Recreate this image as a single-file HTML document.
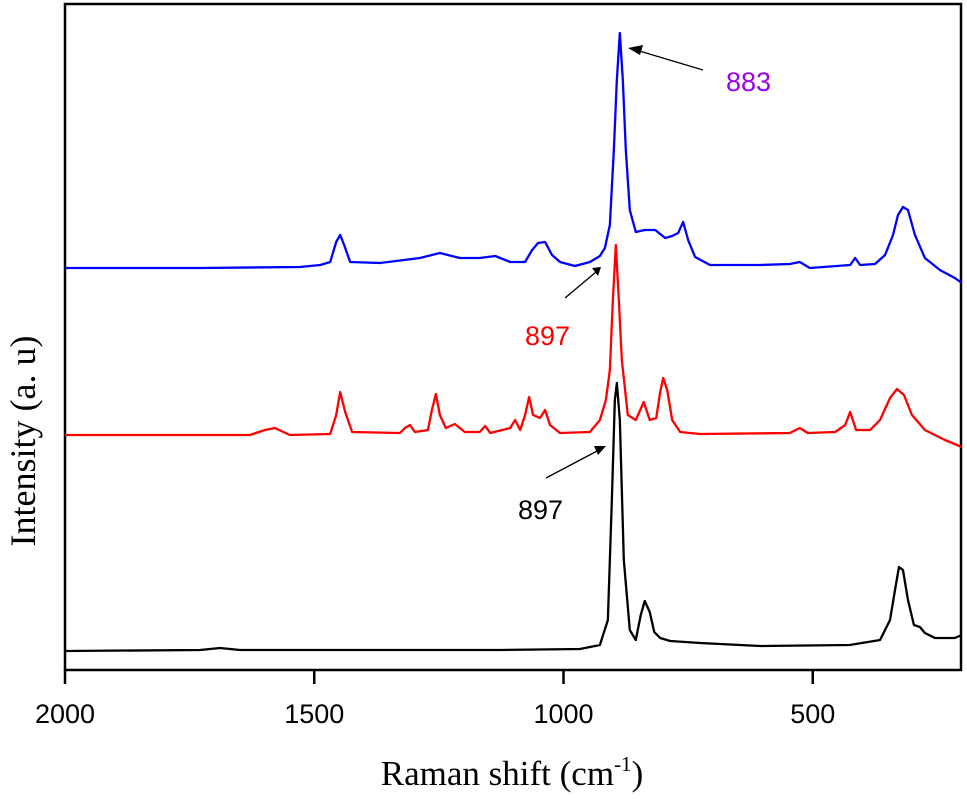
<!DOCTYPE html>
<html><head><meta charset="utf-8"><style>
body{margin:0;background:#fff;}
svg{display:block;}
</style></head><body>
<svg id="chart" width="967" height="799" viewBox="0 0 967 799" xmlns="http://www.w3.org/2000/svg">
<rect x="65" y="4" width="896" height="666" fill="none" stroke="#000" stroke-width="2.5"/>
<g id="xticks"></g>
<g id="series"></g>
<text transform="translate(35,441) rotate(-90)" text-anchor="middle" font-family="Liberation Serif, serif" font-size="36">Intensity (a. u)</text>
<text x="512" y="785" text-anchor="middle" font-family="Liberation Serif, serif" font-size="35">Raman shift (cm<tspan dy="-14" font-size="21">-1</tspan><tspan dy="14">)</tspan></text>
<g>
<line x1="703" y1="70" x2="636" y2="50" stroke="#000" stroke-width="1.3"/>
<polygon points="628,48 643,45 640,55" fill="#000"/>
<text x="726" y="91" font-family="Liberation Sans, sans-serif" font-size="27" fill="#9a00f0">883</text>
</g>
<g>
<line x1="565" y1="298" x2="596" y2="272" stroke="#000" stroke-width="1.3"/>
<polygon points="601,267 592,268 598,276" fill="#000"/>
<text x="525" y="345" font-family="Liberation Sans, sans-serif" font-size="27" fill="#f00">897</text>
</g>
<g>
<line x1="546" y1="478" x2="599" y2="450" stroke="#000" stroke-width="1.3"/>
<polygon points="606,446 594,446 598,455" fill="#000"/>
<text x="518" y="519" font-family="Liberation Sans, sans-serif" font-size="27" fill="#000">897</text>
</g>
</svg>
<script>
const xTicks=[2000,1500,1000,500];
const blackX=[2000,1729,1689,1649,1127,967,927,911,903,897,893,887,879,867,855,845,837,827,818,806,786,726,606,426,365,345,335,327,319,309,297,285,275,255,215,201];
const blackY=[19,20,22,20,20,21,25,50,170,270,287,250,110,40,30,55,69,58,38,32,29,27,24,25,30,50,80,103,100,70,45,43,37,32,32,35];
const redX=[2000,1629,1599,1579,1549,1468,1456,1448,1438,1424,1328,1318,1308,1298,1272,1264,1256,1248,1236,1218,1198,1168,1157,1147,1107,1097,1087,1077,1069,1061,1047,1037,1027,1007,947,927,915,907,901,895,889,883,871,855,839,827,814,806,800,792,782,766,726,546,526,510,455,435,425,413,385,365,345,331,317,301,275,235,201];
const redY=[235,235,240,242,235,236,255,278,258,238,237,242,245,238,240,260,276,255,242,246,238,238,244,237,242,250,240,255,273,255,252,260,245,237,238,250,270,300,370,425,370,310,255,250,268,250,252,278,292,280,250,238,236,237,242,237,238,245,258,240,240,250,272,281,275,255,240,230,223];
const blueX=[2000,1729,1529,1488,1468,1456,1448,1440,1428,1368,1288,1248,1208,1168,1137,1107,1077,1063,1051,1037,1023,1007,977,947,927,917,907,899,893,887,881,875,867,855,837,816,796,782,770,760,750,736,706,606,546,526,506,425,415,405,375,355,339,329,319,309,295,275,245,215,201];
const blueY=[402,402,403,405,408,428,435,425,408,407,412,417,412,412,414,408,408,420,427,428,415,408,404,408,414,422,445,520,590,637,590,520,460,438,440,440,432,434,437,448,430,413,405,405,406,408,402,405,412,405,406,415,435,455,463,460,435,412,400,392,387];
const sx=v=>65+(2000-v)*0.4985;
const sy=v=>670-v;
const NS='http://www.w3.org/2000/svg';
const gx=document.getElementById('xticks');
xTicks.forEach(t=>{
  const l=document.createElementNS(NS,'line');
  
  
  l.setAttribute('x1',sx(t));l.setAttribute('x2',sx(t));
  l.setAttribute('y1',670);l.setAttribute('y2',684);
  l.setAttribute('stroke','#000');l.setAttribute('stroke-width','2.5');
  gx.appendChild(l);
  const tx=document.createElementNS(NS,'text');
  
  
  tx.setAttribute('x',sx(t));tx.setAttribute('y',723);
  tx.setAttribute('text-anchor','middle');
  tx.setAttribute('font-family','Liberation Sans, sans-serif');
  tx.setAttribute('font-size','27');
  tx.textContent=t;
  gx.appendChild(tx);
});
const gs=document.getElementById('series');
function draw(xs,ys,color,name){
  const p=document.createElementNS(NS,'polyline');
  
  
  p.setAttribute('points',xs.map((x,i)=>sx(x)+','+sy(ys[i])).join(' '));
  p.setAttribute('fill','none');p.setAttribute('stroke',color);
  p.setAttribute('stroke-width','2.3');p.setAttribute('stroke-linejoin','round');
  gs.appendChild(p);
}
draw(blackX,blackY,'#000','black-spectrum');
draw(redX,redY,'#f00','red-spectrum');
draw(blueX,blueY,'#00f','blue-spectrum');
</script>
</body></html>
